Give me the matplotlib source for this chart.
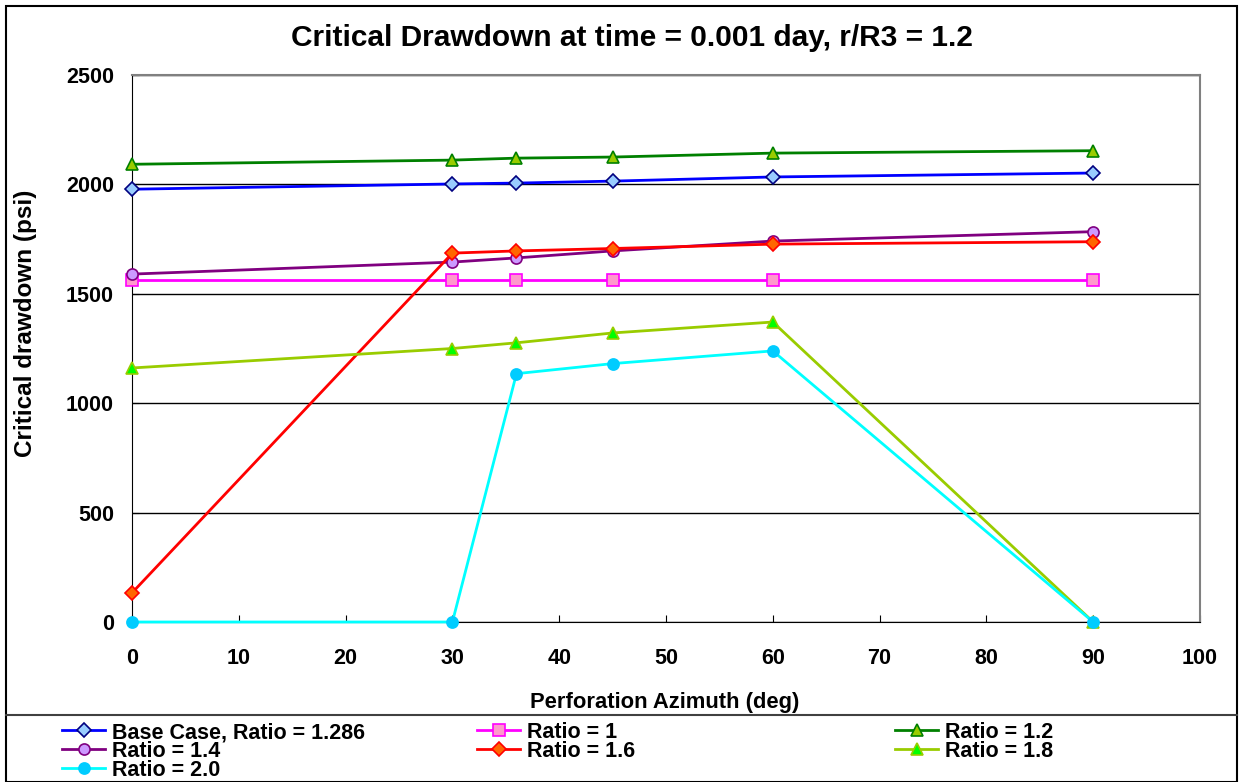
import matplotlib.pyplot as plt
from matplotlib.lines import Line2D
from matplotlib.patches import Rectangle

plt.rcParams['font.family'] = ['Liberation Sans', 'DejaVu Sans']
plt.rcParams['font.weight'] = 'bold'

# Perforation azimuth [deg]
azimuth = [0, 30, 36, 45, 60, 90]

# Critical drawdown [psi] for each case
base_case = [1978, 2002, 2006, 2015, 2034, 2052]
ratio_1_0 = [1565, 1565, 1565, 1565, 1565, 1565]
ratio_1_2 = [2092, 2111, 2120, 2125, 2143, 2154]
ratio_1_4 = [1590, 1645, 1664, 1696, 1741, 1784]
ratio_1_6 = [133, 1686, 1696, 1707, 1727, 1738]
ratio_1_8 = [1161, 1250, 1276, 1321, 1371, 0]
ratio_2_0 = [0, 0, 1135, 1181, 1239, 0]

series = [
    ("Base Case, Ratio = 1.286", base_case, '#0000FF', 'D', '#99CCFF', '#000080', 7),
    ("Ratio = 1", ratio_1_0, '#FF00FF', 's', '#FF99CC', '#FF00FF', 8),
    ("Ratio = 1.2", ratio_1_2, '#008000', '^', '#99CC00', '#008000', 9),
    ("Ratio = 1.4", ratio_1_4, '#800080', 'o', '#CC99FF', '#800080', 8),
    ("Ratio = 1.6", ratio_1_6, '#FF0000', 'D', '#FF6600', '#FF0000', 7),
    ("Ratio = 1.8", ratio_1_8, '#99CC00', '^', '#00FF00', '#99CC00', 9),
    ("Ratio = 2.0", ratio_2_0, '#00FFFF', 'o', '#00CCFF', '#00CCFF', 8),
]

W, H = 1241, 782
fig = plt.figure(figsize=(W / 100, H / 100), dpi=100)
ax = fig.add_axes([132 / W, 1 - 622 / H, 1068 / W, 547 / H])

handles = []
for label, vals, lc, mk, mfc, mec, ms in series:
    h, = ax.plot(azimuth, vals, color=lc, lw=2, marker=mk, markersize=ms,
                 markerfacecolor=mfc, markeredgecolor=mec, markeredgewidth=1.2,
                 label=label, clip_on=False, zorder=3)
    handles.append(h)

ax.set_xlim(0, 100)
ax.set_ylim(0, 2500)
ax.set_xticks(range(0, 101, 10))
ax.set_yticks(range(0, 2501, 500))
ax.yaxis.grid(True, color='black', lw=1)
ax.set_axisbelow(True)
ax.tick_params(axis='x', direction='in', length=5, pad=19, labelsize=15.5)
ax.tick_params(axis='y', direction='in', length=5, pad=13, labelsize=15.5)
for lab in ax.get_xticklabels() + ax.get_yticklabels():
    lab.set_fontweight('bold')
for side in ['top', 'right']:
    ax.spines[side].set_color('#808080')
    ax.spines[side].set_linewidth(1.5)

ax.set_xlabel("Perforation Azimuth (deg)", fontsize=15.8, fontweight='bold')
ax.xaxis.set_label_coords((665 - 132) / 1068, -(692 - 622) / 547)
ax.set_ylabel("Critical drawdown (psi)", fontsize=17.5, fontweight='bold')
ax.yaxis.set_label_coords((37 - 132) / 1068, (622 - 323) / 547)
fig.text(632 / W, 1 - 38 / H, "Critical Drawdown at time = 0.001 day, r/R3 = 1.2",
         fontsize=21.5, fontweight='bold', ha='center', va='center')

# outer frame and legend box
fig.add_artist(Rectangle((6 / W, 0), 1231 / W, 776 / H, transform=fig.transFigure,
                         fill=False, edgecolor='black', lw=1.5))
fig.add_artist(Line2D([6 / W, 1237 / W], [67 / H, 67 / H], transform=fig.transFigure,
                      color='#404040', lw=1.5))

# legend: three columns placed by hand
columns = [([0, 3, 6], 62), ([1, 4], 477), ([2, 5], 895)]
for idx, x0 in columns:
    leg = fig.legend([handles[i] for i in idx], [series[i][0] for i in idx],
                     loc='upper left', bbox_to_anchor=(x0 / W, 1 - 722 / H),
                     frameon=False, fontsize=15.5, handlelength=2.0, handletextpad=0.3,
                     labelspacing=-0.1, borderpad=0, borderaxespad=0)
    for t in leg.get_texts():
        t.set_fontweight('bold')

fig.savefig("out.png", dpi=100)
